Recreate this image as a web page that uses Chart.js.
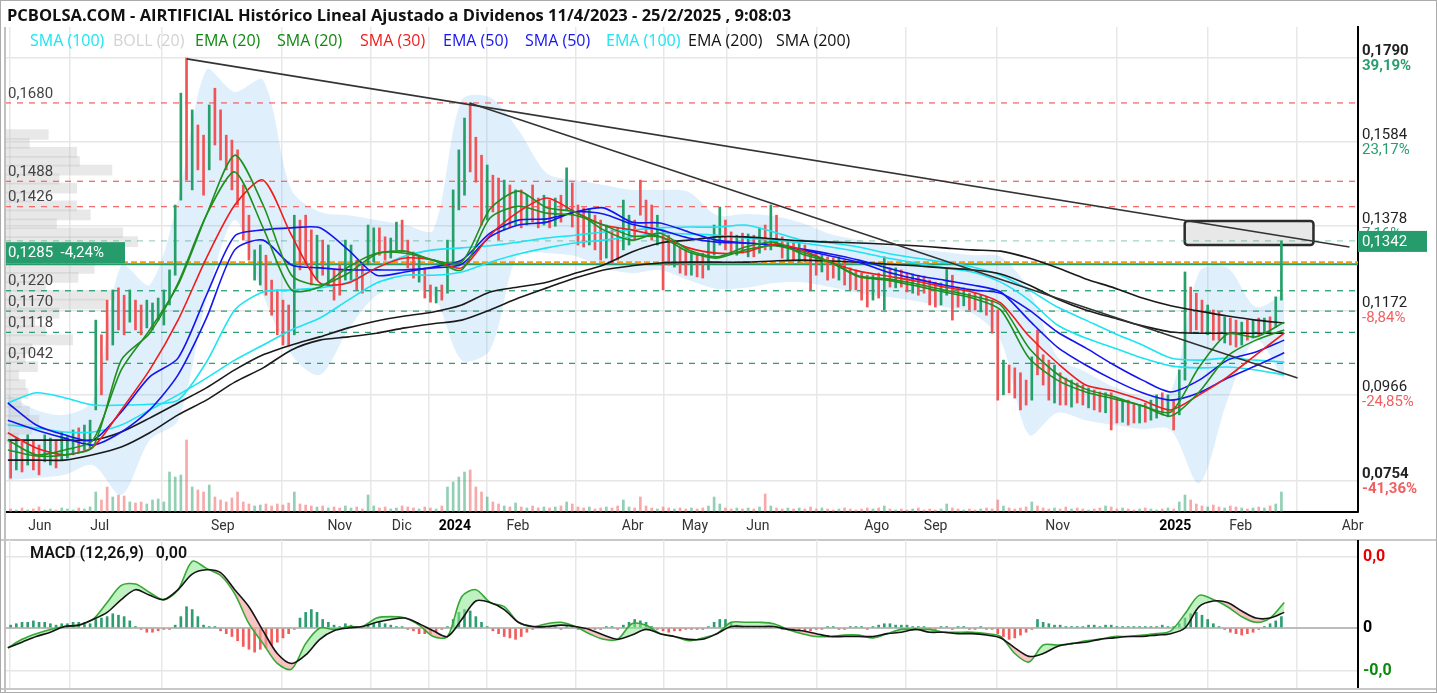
<!DOCTYPE html>
<html lang="es">
<head>
<meta charset="utf-8">
<title>AIRTIFICIAL - Histórico</title>
<script src="https://cdn.jsdelivr.net/npm/chart.js@4/dist/chart.umd.min.js"></script>
<style>
  html, body { margin: 0; padding: 0; background: #fff; }
  #grafico { position: relative; width: 1437px; height: 693px; overflow: hidden; font-family: Roboto, "Noto Sans", sans-serif; }
  #marco { position: absolute; left: 0; top: 0; width: 1437px; height: 693px; box-sizing: border-box; border: 1px solid #aaa; pointer-events: none; z-index: 5; }
  #titulo { position: absolute; left: 7px; top: 3px; font-family: "Open Sans", Roboto, sans-serif; font-size: 16.5px; font-weight: bold; color: #111; white-space: nowrap; z-index: 3; }
  #leyenda span { position: absolute; top: 29px; font-family: "Open Sans", Roboto, sans-serif; font-size: 16px; white-space: nowrap; z-index: 3; }
  #etiquetaMacd { position: absolute; left: 30px; top: 543px; font-size: 16px; font-weight: 600; color: #111; z-index: 3; white-space: nowrap; }
  #sep1 { position: absolute; left: 0; top: 539px; width: 1437px; height: 2px; background: #c8c8c8; }
  #sep2 { position: absolute; left: 0; top: 688px; width: 1437px; height: 2px; background: #c8c8c8; }
  #bordeIzq { position: absolute; left: 4px; top: 27px; width: 1.5px; height: 666px; background: #c0c0c0; z-index: 2; }
  canvas { position: absolute; left: 0; }
</style>
</head>
<body>
<div id="grafico">
  <div id="titulo">PCBOLSA.COM - AIRTIFICIAL Histórico Lineal Ajustado a Dividenos 11/4/2023 - 25/2/2025 , 9:08:03</div>
  <div id="leyenda">
    <span style="left:30px;color:#1de4f2">SMA (100)</span>
    <span style="left:113px;color:#d2d2d2">BOLL (20)</span>
    <span style="left:195px;color:#118811">EMA (20)</span>
    <span style="left:277px;color:#118811">SMA (20)</span>
    <span style="left:360px;color:#f01c1c">SMA (30)</span>
    <span style="left:443px;color:#1515f0">EMA (50)</span>
    <span style="left:525px;color:#1515f0">SMA (50)</span>
    <span style="left:606px;color:#1de4f2">EMA (100)</span>
    <span style="left:688px;color:#111">EMA (200)</span>
    <span style="left:776px;color:#111">SMA (200)</span>
  </div>
  <canvas id="cPrincipal" width="1437" height="540" style="top:0"></canvas>
  <div id="sep1"></div>
  <canvas id="cMacd" width="1437" height="150" style="top:540px"></canvas>
  <div id="sep2"></div>
  <div id="etiquetaMacd">MACD (12,26,9) &nbsp; 0,00</div>
  <div id="bordeIzq"></div>
  <div id="marco"></div>
</div>
<script>
// eje x en sesiones: 0 = borde izquierdo, velas cada 2 sesiones, medias cada 10, MACD cada 5
const mesesPos = [11.3, 32.4, 75.8, 117.0, 138.9, 157.6, 179.8, 220.3, 242.2, 264.4, 306.3, 327.1, 370.1, 411.6, 434.6, 474.1];
const mesesTxt = ['Jun', 'Jul', 'Sep', 'Nov', 'Dic', '2024', 'Feb', 'Abr', 'May', 'Jun', 'Ago', 'Sep', 'Nov', '2025', 'Feb', 'Abr'];

const ticksPrecio = [0.1790, 0.1584, 0.1378, 0.1172, 0.0966, 0.0754];
const ticksPct = ['39,19%', '23,17%', '7,16%', '-8,84%', '-24,85%', '-41,36%'];

const resistencias = [0.1680, 0.1488, 0.1426];
const soportes = [0.1220, 0.1170, 0.1118, 0.1042];
const precioRef = 0.1285;
const variacionRef = '-4,24%';
const nivelNaranja = 0.1290;
const ultimoPrecio = 0.1342;

// velas (máximo / mínimo cada 2 sesiones) y sentido g = sube, r = baja
const velaMax = [
  .0854,.0859,.0850,.0867,.0854,.0842,.0867,.0859,.0854,.0874,.0864,.0879,.0884,.0891,.0903,
  .1148,.1112,.1197,.1222,.1227,.1209,.1222,.1197,.1185,.1197,.1190,.1202,.1222,.1271,.1430,.1704,
  .1790,.1663,.1626,.1601,.1675,.1716,.1663,.1601,.1589,.1565,.1479,.1405,.1320,.1332,.1307,.1246,.1222,.1197,.1185,.1405,.1393,.1405,.1369,.1356,.1344,.1332,
  .1271,.1283,.1344,.1332,.1295,.1290,.1381,.1374,.1374,.1352,.1349,.1388,.1393,.1344,.1315,.1307,.1276,.1234,.1229,.1234,
  .1344,.1467,.1565,.1643,.1680,.1596,.1552,.1528,.1503,.1496,.1491,.1479,.1467,.1467,.1454,.1479,.1447,.1454,.1442,.1447,.1454,.1521,.1484,.1430,
  .1423,.1418,.1405,.1393,.1381,.1369,.1374,.1442,.1405,.1393,.1491,.1442,.1430,.1405,
  .1369,.1356,.1344,.1327,.1320,.1315,.1307,.1312,.1349,.1381,.1425,.1393,.1364,.1356,.1361,.1359,.1356,.1374,.1381,.1430,.1405,.1352,.1344,.1337,.1337,.1332,
  .1307,.1312,.1307,.1303,.1300,.1303,.1295,.1276,.1271,.1263,.1258,.1258,.1263,.1303,.1276,.1276,.1271,.1263,.1261,.1258,.1256,.1246,.1241,.1239,.1276,.1258,.1229,.1227,.1214,.1214,.1209,.1205,.1197,
  .1173,.1050,.1038,.1031,.1019,.1001,.1058,.1124,.1063,.1050,.1038,.1019,.1006,.1001,.0994,.0989,.0982,.0977,.0972,.0970,.0970,.0957,.0952,.0952,.0945,.0940,.0945,.0952,.0965,.0970,.0965,.0952,
  .1026,.1266,.1229,.1214,.1197,.1185,.1173,.1168,.1156,.1153,.1148,.1143,.1148,.1148,.1153,.1153,.1156,.1205,.1342
];
const velaMin = [
  .0761,.0781,.0776,.0793,.0781,.0769,.0801,.0793,.0786,.0805,.0810,.0818,.0825,.0830,.0835,
  .0928,.0965,.1050,.1087,.1124,.1112,.1143,.1124,.1112,.1129,.1124,.1148,.1136,.1185,.1258,.1442,
  .1491,.1467,.1516,.1454,.1516,.1577,.1540,.1516,.1467,.1430,.1344,.1295,.1246,.1234,.1209,.1160,.1112,.1087,.1087,.1112,.1271,.1283,.1234,.1246,.1258,.1234,
  .1197,.1209,.1246,.1246,.1222,.1214,.1283,.1290,.1307,.1295,.1300,.1320,.1315,.1276,.1251,.1241,.1202,.1192,.1190,.1197,
  .1214,.1283,.1418,.1454,.1511,.1486,.1381,.1393,.1413,.1344,.1369,.1374,.1381,.1374,.1381,.1388,.1374,.1381,.1374,.1378,.1388,.1418,.1376,.1332,
  .1327,.1332,.1320,.1295,.1300,.1288,.1295,.1320,.1332,.1344,.1405,.1356,.1344,.1332,
  .1222,.1283,.1278,.1263,.1258,.1258,.1254,.1251,.1271,.1307,.1332,.1320,.1312,.1307,.1312,.1303,.1303,.1312,.1320,.1320,.1332,.1300,.1295,.1295,.1290,.1290,
  .1222,.1258,.1266,.1246,.1251,.1246,.1234,.1222,.1222,.1197,.1180,.1197,.1202,.1173,.1229,.1227,.1229,.1217,.1214,.1209,.1214,.1185,.1180,.1185,.1209,.1148,.1180,.1183,.1173,.1173,.1168,.1160,.1116,
  .0952,.0965,.0970,.0957,.0928,.0940,.0952,.1014,.0989,.0952,.0945,.0940,.0940,.0935,.0945,.0940,.0933,.0928,.0923,.0921,.0879,.0896,.0898,.0891,.0896,.0896,.0898,.0903,.0908,.0916,.0911,.0879,
  .0916,.1001,.1116,.1124,.1116,.1112,.1099,.1099,.1092,.1087,.1082,.1087,.1099,.1104,.1112,.1116,.1119,.1131,.1197
];
const velaDir = ('rgrgrrggrgggrgg' + 'grrgrrgrrggggggg' + 'rgrrgrrrrrrrggrrrrrgrrrgrg' + 'rrggrrggrrggrrrgrrgr' +
  'ggggrrrgrrgrgrgrrgrgrgrr' + 'rgrrgrrggrrrrg' + 'rrgrrgrrgggrrgrgrgrgrrgrgr' + 'rrgrrgrrrrrgrgrgrrgrrrrggrrgrrgrr' +
  'rgrrrrgrrrgrrgrrgrrgrrgrrgrggrgr' + 'ggrrrgrrgrrgrgrgrgg').split('');
const volumen = [
  3,2,4,2,3,5,2,3,2,4,3,2,4,3,5,
  20,12,25,15,17,16,10,9,10,8,12,13,10,40,35,37,72,25,22,20,27,15,12,10,14,20,10,8,6,7,8,6,8,7,9,20,8,7,6,5,6,4,
  5,4,6,4,5,3,17,6,4,5,3,4,6,5,4,3,5,4,3,6,
  25,30,35,40,42,25,20,15,10,8,6,5,9,5,4,6,4,5,4,5,6,10,8,5,
  4,5,3,4,5,4,6,12,5,4,15,6,4,3,
  5,4,3,4,3,4,3,4,6,15,8,4,3,4,3,4,3,5,18,6,4,3,4,3,4,3,
  5,3,4,3,2,3,4,3,2,3,4,3,4,6,3,2,3,2,3,4,2,3,2,3,8,4,3,2,3,2,3,4,3,
  12,6,4,3,4,5,10,6,4,3,4,3,5,3,4,3,2,3,4,6,5,3,4,3,2,3,4,3,2,3,4,3,
  10,17,12,8,6,5,7,5,4,6,5,4,3,4,5,4,6,8,20
];

// medias móviles y bandas, cada 10 sesiones
const sma100 = [.0945,.0970,.0958,.0940,.0940,.0942,.0952,.1045,.1173,.1217,.1222,.1227,.1241,.1276,.1305,.1320,.1325,.1330,.1339,.1349,.1356,.1364,.1369,.1374,.1376,.1376,.1381,.1364,.1344,.1337,.1327,.1312,.1300,.1290,.1278,.1258,.1222,.1180,.1148,.1116,.1087,.1055,.1050,.1055,.1050,.1045];
const ema100 = [.0891,.0884,.0874,.0874,.0891,.0928,.0965,.1006,.1050,.1087,.1124,.1153,.1197,.1239,.1258,.1258,.1266,.1290,.1310,.1325,.1337,.1344,.1352,.1361,.1359,.1356,.1349,.1344,.1337,.1327,.1315,.1300,.1288,.1276,.1266,.1241,.1197,.1136,.1104,.1080,.1055,.1036,.1031,.1033,.1026,.1014];
const ema200 = [.0854,.0854,.0854,.0854,.0874,.0908,.0945,.0982,.1026,.1063,.1087,.1107,.1129,.1146,.1158,.1168,.1185,.1217,.1229,.1241,.1263,.1283,.1315,.1337,.1344,.1352,.1352,.1347,.1342,.1339,.1337,.1334,.1330,.1325,.1320,.1317,.1300,.1276,.1249,.1227,.1202,.1183,.1170,.1158,.1148,.1141];
const sma200 = [.0805,.0805,.0805,.0818,.0837,.0872,.0916,.0952,.0996,.1031,.1075,.1099,.1107,.1116,.1129,.1139,.1148,.1173,.1202,.1227,.1251,.1271,.1281,.1288,.1290,.1290,.1290,.1293,.1295,.1293,.1290,.1285,.1281,.1276,.1271,.1261,.1234,.1200,.1173,.1153,.1134,.1119,.1116,.1116,.1116,.1116];
const sma50 = [.0945,.0891,.0867,.0854,.0923,.1009,.1055,.1209,.1354,.1369,.1374,.1374,.1320,.1258,.1266,.1278,.1295,.1361,.1393,.1396,.1413,.1423,.1388,.1386,.1364,.1344,.1337,.1332,.1322,.1310,.1295,.1276,.1258,.1246,.1234,.1217,.1148,.1082,.1038,.1001,.0970,.0952,.0970,.1006,.1036,.1068];
const ema50 = [.0903,.0879,.0859,.0842,.0874,.0928,.1014,.1153,.1320,.1344,.1283,.1276,.1271,.1271,.1271,.1276,.1285,.1352,.1381,.1388,.1413,.1408,.1383,.1369,.1349,.1339,.1337,.1332,.1320,.1305,.1290,.1266,.1249,.1234,.1222,.1214,.1173,.1119,.1080,.1038,.1001,.0972,.1001,.1050,.1070,.1099];
const sma30 = [.0872,.0835,.0818,.0837,.0928,.1026,.1148,.1300,.1430,.1491,.1356,.1239,.1239,.1276,.1300,.1295,.1276,.1356,.1413,.1447,.1413,.1381,.1369,.1352,.1325,.1312,.1315,.1334,.1320,.1290,.1268,.1256,.1244,.1229,.1217,.1190,.1109,.1043,.0989,.0974,.0952,.0928,.0965,.1009,.1063,.1116];
const ema20 = [.0854,.0818,.0830,.0854,.1026,.1124,.1234,.1405,.1552,.1430,.1258,.1234,.1263,.1310,.1317,.1295,.1290,.1420,.1464,.1423,.1413,.1369,.1344,.1361,.1320,.1303,.1327,.1339,.1310,.1290,.1256,.1249,.1237,.1222,.1207,.1185,.1080,.1016,.0979,.0960,.0938,.0923,.1033,.1114,.1107,.1143];
const sma20 = [.0830,.0815,.0818,.0837,.1050,.1116,.1239,.1405,.1511,.1374,.1222,.1229,.1278,.1312,.1312,.1295,.1271,.1398,.1427,.1410,.1405,.1381,.1354,.1352,.1315,.1300,.1320,.1330,.1315,.1290,.1254,.1246,.1232,.1217,.1202,.1173,.1055,.1001,.0972,.0955,.0938,.0913,.0972,.1060,.1099,.1124];
const bollSup = [.0965,.0928,.0916,.0952,.1283,.1234,.1442,.1761,.1707,.1736,.1467,.1413,.1405,.1393,.1381,.1369,.1687,.1694,.1614,.1508,.1491,.1479,.1467,.1467,.1462,.1405,.1408,.1403,.1386,.1359,.1344,.1330,.1322,.1315,.1307,.1303,.1222,.1058,.1021,.0984,.0962,.0972,.1266,.1276,.1180,.1214];
const bollInf = [.0756,.0761,.0769,.0793,.0720,.0854,.0903,.1197,.1393,.1209,.1063,.1014,.1124,.1209,.1222,.1209,.1050,.1075,.1312,.1312,.1305,.1276,.1263,.1271,.1246,.1224,.1227,.1239,.1241,.1229,.1214,.1205,.1195,.1180,.1165,.1099,.0867,.0921,.0903,.0891,.0881,.0879,.0749,.0952,.1099,.1001];

// perfil de volumen por precio (izquierda)
const perfilPrecio = [.1650,.1625,.1600,.1575,.1550,.1525,.1500,.1475,.1450,.1425,.1400,.1375,.1350,.1325,.1300,.1275,.1250,.1225,.1200,.1175,.1150,.1125,.1100,.1075,.1050,.1025,.1000,.0975,.0950,.0925,.0900,.0875,.0850,.0825,.0800];
const perfilVolumen = [32,18,53,55,79,40,53,20,53,63,38,87,98,60,60,66,54,30,81,74,40,22,30,50,20,15,24,10,15,17,12,18,25,20,10];

// líneas de tendencia [sesión, precio] y zona rectangular
const tendencia1 = [[63.1, 0.1788], [473.0, 0.1327]];
const tendencia2 = [[162.8, 0.1680], [454.7, 0.1006]];
const zona = [414.9, 460.3, 0.1332, 0.1391];

// MACD (unidades de 0,0001): línea y señal cada 5 sesiones, histograma cada 2
const macd = [-14,-8,-4,-1,1,2,6,18,30,31, 25,20,27,47,42,37,24,3,-11,-25, -29,-11,0,-1,1,1,7,8,7,2,
  -6,-6,22,27,18,15,4,1,3,4, 1,-4,-8,-8,3,2,-4,-6,-9,-7, -4,4,4,4,3,-1,-4,-6,-6,-5,
  -5,-7,-4,-1,-1,-1,-3,-3,-3,-4, -6,-18,-24,-12,-12,-11,-9,-8,-6,-6, -5,-4,-2,10,23,20,15,8,4,7, 18];
const senal = [-14,-10,-6,-3,1,2,6,11,20,27, 23,20,27,38,41,39,27,15,-2,-18, -25,-19,-8,-2,0,1,4,6,7,3,
  -2,-6,6,19,18,13,4,1,1,2, 1,-1,-5,-8,-5,-1,-4,-6,-8,-8, -4,1,1,1,1,-1,-2,-4,-6,-6,
  -6,-6,-4,-3,-1,-3,-3,-4,-4,-5, -7,-14,-20,-18,-13,-11,-10,-8,-7,-6, -6,-5,-4,0,15,19,18,12,7,7, 11];
const histograma = [
  2,3,4,4,5,4,4,3,2,3,3,4,4,4,3,
  6,7,8,10,9,8,5,1,-1,-3,-3,-2,-1,-1,2,8,
  15,13,8,2,1,1,-2,-4,-6,-9,-13,-15,-17,-15,-14,-12,-10,-7,-4,-1,7,11,13,11,6,4,
  2,1,3,2,1,1,2,3,4,3,2,1,1,-1,-2,-4,-4,-4,-3,-1,
  1,6,11,13,12,8,4,1,-2,-4,-6,-7,-8,-6,-3,-1,1,1,1,1,-1,1,1,-1,
  -1,-1,-1,-1,1,1,-1,2,4,6,5,4,1,-1,
  -2,-3,-2,-2,-1,-1,-1,-1,1,4,6,6,4,2,1,1,1,1,1,1,1,-1,-1,-1,-2,-2,
  -2,-1,-1,1,1,-1,-1,1,1,1,-1,1,2,3,3,2,2,2,1,1,1,-1,-1,1,1,-1,1,1,-1,-1,1,-1,-1,
  -4,-6,-8,-7,-5,-3,-1,6,4,3,2,2,1,1,1,1,2,2,1,2,2,1,1,1,1,1,1,1,1,2,1,1,
  3,7,10,11,9,6,3,1,-1,-3,-4,-5,-4,-3,-1,1,3,5,8
];
const macdTicks = [50, 0, -30];
const macdTicksTxt = ['0,0', '0', '-0,0'];
const macdTicksColor = ['#e60000', '#000', '#0a8a0a'];

Chart.defaults.font.family = 'Roboto, "Noto Sans", sans-serif';
Chart.defaults.color = '#333';

const X_MIN = -1, X_MAX = 476;
const verde = '#269b6c';
const rojoTxt = '#f25f5f';
const fmt = v => v.toFixed(4).replace('.', ',');

const serie10 = vals => vals.map((v, j) => ({ x: 10 * j, y: v }));
const media = (vals, color, orden) => ({
  type: 'line', data: serie10(vals), borderColor: color, borderWidth: 1.6,
  pointRadius: 0, tension: 0.25, fill: false, order: orden
});
const horizontal = (v, color, dash, ancho, orden) => ({
  type: 'line', data: [{ x: X_MIN, y: v }, { x: X_MAX, y: v }],
  borderColor: color, borderDash: dash, borderWidth: ancho, pointRadius: 0, fill: false, order: orden
});
const recta = (pts) => ({
  type: 'line', data: pts.map(p => ({ x: p[0], y: p[1] })),
  borderColor: '#333', borderWidth: 1.6, pointRadius: 0, fill: false, order: 1
});

const rotulos = {
  id: 'rotulos',
  beforeDatasetsDraw(chart) {
    const { ctx } = chart;
    const x = chart.scales.x, y = chart.scales.y;
    const x0 = x.getPixelForValue(zona[0]), x1 = x.getPixelForValue(zona[1]);
    const y0 = y.getPixelForValue(zona[3]), y1 = y.getPixelForValue(zona[2]);
    ctx.save();
    ctx.fillStyle = '#e8e8e8';
    ctx.strokeStyle = '#2b2b2b';
    ctx.lineWidth = 2.5;
    ctx.beginPath();
    if (ctx.roundRect) ctx.roundRect(x0, y0, x1 - x0, y1 - y0, 3);
    else ctx.rect(x0, y0, x1 - x0, y1 - y0);
    ctx.fill();
    ctx.stroke();
    ctx.restore();
  },
  afterDatasetsDraw(chart) {
    const { ctx, chartArea } = chart;
    const y = chart.scales.y;
    ctx.save();
    ctx.font = '15px Roboto';
    ctx.textBaseline = 'middle';
    ctx.fillStyle = '#444';
    [...resistencias, ...soportes].forEach(v => {
      ctx.fillText(fmt(v), chartArea.left + 3, y.getPixelForValue(v) - 9);
    });
    const py = y.getPixelForValue(precioRef);
    ctx.fillStyle = verde;
    ctx.fillRect(chartArea.left, py - 22, 120, 21);
    ctx.fillStyle = '#fff';
    ctx.fillText(fmt(precioRef) + '  ' + variacionRef, chartArea.left + 3, py - 11);
    ctx.restore();
  },
  afterDraw(chart) {
    const { ctx, chartArea } = chart;
    const y = chart.scales.y;
    ctx.save();
    ctx.textBaseline = 'middle';
    ticksPrecio.forEach((v, n) => {
      const py = y.getPixelForValue(v);
      const extremo = n === 0 || n === ticksPrecio.length - 1;
      ctx.font = (extremo ? 'bold ' : '') + '15px Roboto';
      ctx.fillStyle = '#222';
      ctx.fillText(fmt(v), chartArea.right + 4, py - 7);
      ctx.fillStyle = ticksPct[n].startsWith('-') ? rojoTxt : '#2a9d70';
      ctx.fillText(ticksPct[n], chartArea.right + 4, py + 8);
    });
    const pu = y.getPixelForValue(ultimoPrecio);
    ctx.fillStyle = verde;
    ctx.fillRect(chartArea.right, pu - 10, 69, 21);
    ctx.fillStyle = '#fff';
    ctx.font = '15px Roboto';
    ctx.fillText(fmt(ultimoPrecio), chartArea.right + 4, pu + 1);
    ctx.restore();
  }
};

const ejeMeses = s => { s.ticks = mesesPos.map(v => ({ value: v })); };

new Chart(document.getElementById('cPrincipal'), {
  type: 'line',
  data: {
    datasets: [
      { type: 'line', data: serie10(bollSup), borderColor: 'rgba(0,0,0,0)', borderWidth: 0, pointRadius: 0, tension: 0.3, fill: false, order: 100 },
      { type: 'line', data: serie10(bollInf), borderColor: 'rgba(0,0,0,0)', borderWidth: 0, pointRadius: 0, tension: 0.3,
        fill: '-1', backgroundColor: 'rgba(110,180,240,0.22)', order: 99 },
      { type: 'bar', indexAxis: 'y', xAxisID: 'xPerfil', yAxisID: 'yPerfil',
        data: perfilPrecio.map((p, n) => ({ x: perfilVolumen[n], y: p })),
        backgroundColor: 'rgba(190,190,190,0.35)', grouped: false, barThickness: 10, maxBarThickness: 10, order: 90 },
      ...resistencias.map(v => horizontal(v, '#f36b6b', [6, 6], 1.3, 80)),
      ...soportes.map(v => horizontal(v, '#2e9e72', [6, 6], 1.3, 80)),
      horizontal(ultimoPrecio, 'rgba(46,158,114,0.45)', [6, 6], 1.3, 80),
      horizontal(precioRef, verde, [], 2, 79),
      horizontal(nivelNaranja, '#f39c12', [6, 3], 2, 78),
      { type: 'bar', yAxisID: 'yVol', data: volumen.map((v, k) => ({ x: 1 + 2 * k, y: v })),
        backgroundColor: velaDir.map(d => d === 'g' ? 'rgba(38,160,106,0.5)' : 'rgba(240,84,84,0.5)'),
        grouped: false, barThickness: 2, maxBarThickness: 2, order: 70 },
      { type: 'bar', data: velaMax.map((h, k) => ({ x: 1 + 2 * k, y: [velaMin[k], h] })),
        backgroundColor: velaDir.map(d => d === 'g' ? '#26a06a' : '#f05454'),
        grouped: false, barThickness: 2, maxBarThickness: 2, order: 30 },
      media(sma100, '#1de4f2', 20),
      media(ema100, '#1de4f2', 20),
      media(ema200, '#1a1a1a', 19),
      media(sma200, '#1a1a1a', 19),
      media(sma50, '#1515f0', 18),
      media(ema50, '#1515f0', 18),
      media(sma30, '#f01c1c', 17),
      media(ema20, '#1f8f1f', 16),
      media(sma20, '#1f8f1f', 16),
      recta(tendencia1),
      recta(tendencia2)
    ]
  },
  options: {
    responsive: false,
    animation: false,
    devicePixelRatio: 1,
    events: [],
    layout: { padding: { left: 5, top: 27, right: 0, bottom: 0 } },
    plugins: { legend: { display: false }, tooltip: { enabled: false } },
    scales: {
      x: {
        type: 'linear', min: X_MIN, max: X_MAX, offset: false,
        afterBuildTicks: ejeMeses,
        afterFit: s => { s.height = 28; s.paddingLeft = 0; s.paddingRight = 0; },
        ticks: {
          autoSkip: false, maxRotation: 0, minRotation: 0, padding: 6,
          callback: (v, n) => mesesTxt[n],
          color: c => /^\d{4}$/.test(mesesTxt[c.index]) ? '#000' : '#333',
          font: c => ({ size: 14, weight: /^\d{4}$/.test(mesesTxt[c.index]) ? 'bold' : 'normal' })
        },
        grid: { color: '#e8e8e8', lineWidth: 1.5, drawTicks: false },
        border: { color: '#000', width: 2 }
      },
      y: {
        type: 'linear', position: 'right', min: 0.0678, max: 0.1866,
        afterBuildTicks: s => { s.ticks = ticksPrecio.map(v => ({ value: v })); },
        afterFit: s => { s.width = 79; s.paddingTop = 0; s.paddingBottom = 0; },
        ticks: { display: false },
        grid: { color: '#e6e6e6', lineWidth: 1.5, drawTicks: false },
        border: { color: '#000', width: 2 }
      },
      yVol: { type: 'linear', display: false, min: 0, max: 485 },
      xPerfil: { type: 'linear', display: false, min: 0, max: 1000 },
      yPerfil: { type: 'linear', display: false, min: 0.0678, max: 0.1866 }
    }
  },
  plugins: [rotulos]
});

new Chart(document.getElementById('cMacd'), {
  type: 'line',
  data: {
    datasets: [
      { type: 'bar', data: histograma.map((v, k) => ({ x: 1 + 2 * k, y: v })),
        backgroundColor: histograma.map(v => v >= 0 ? '#2e9e72' : '#f45b5b'),
        grouped: false, barThickness: 2, maxBarThickness: 2, order: 3 },
      { type: 'line', data: macd.map((v, m) => ({ x: 5 * m, y: v })), borderColor: '#35a835', borderWidth: 1.6,
        pointRadius: 0, tension: 0.3,
        fill: { target: 2, above: 'rgba(140,230,140,0.55)', below: 'rgba(245,165,165,0.65)' }, order: 2 },
      { type: 'line', data: senal.map((v, m) => ({ x: 5 * m, y: v })), borderColor: '#151515', borderWidth: 1.6,
        pointRadius: 0, tension: 0.3, fill: false, order: 1 }
    ]
  },
  options: {
    responsive: false,
    animation: false,
    devicePixelRatio: 1,
    events: [],
    layout: { padding: { left: 5, top: 0, right: 0, bottom: 0 } },
    plugins: { legend: { display: false }, tooltip: { enabled: false } },
    scales: {
      x: {
        type: 'linear', min: X_MIN, max: X_MAX, offset: false,
        afterBuildTicks: ejeMeses,
        afterFit: s => { s.height = 0; s.paddingLeft = 0; s.paddingRight = 0; },
        ticks: { display: false },
        grid: { color: '#e8e8e8', lineWidth: 1.5, drawTicks: false },
        border: { display: false }
      },
      y: {
        type: 'linear', position: 'right', min: -43.7, max: 62,
        afterBuildTicks: s => { s.ticks = macdTicks.map(v => ({ value: v })); },
        afterFit: s => { s.width = 79; s.paddingTop = 0; s.paddingBottom = 0; },
        ticks: {
          padding: 5,
          callback: (v, n) => macdTicksTxt[n],
          color: c => macdTicksColor[c.index],
          font: { size: 16, weight: 'bold' }
        },
        grid: {
          color: c => c.tick.value === 0 ? '#bcbcbc' : '#e6e6e6',
          lineWidth: c => c.tick.value === 0 ? 2 : 1.5,
          drawTicks: false
        },
        border: { color: '#000', width: 2 }
      }
    }
  }
});
</script>
</body>
</html>
